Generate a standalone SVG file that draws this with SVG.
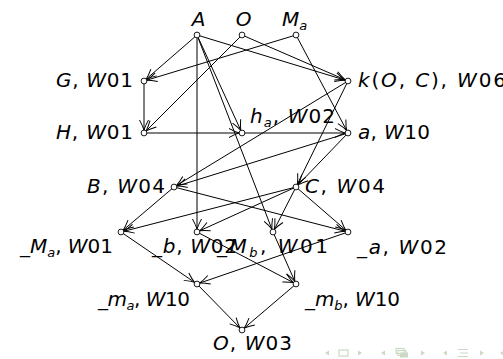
<svg xmlns="http://www.w3.org/2000/svg" width="503" height="359" viewBox="0 0 503 359">
<style>
text{font-family:"DejaVu Sans","Liberation Sans",sans-serif;font-size:20px;fill:#000}
.i{font-style:italic}
.s{font-size:13px;font-style:italic}
.e{stroke:#000;stroke-width:1;fill:none;marker-end:url(#ar)}
.n{fill:#fff;stroke:#000;stroke-width:0.9}
.nav{fill:#cbd9c5;stroke:none}
.navl{fill:none;stroke:#cbd9c5;stroke-width:1.2}
</style>
<defs>
<marker id="ar" markerUnits="userSpaceOnUse" markerWidth="16" markerHeight="14" viewBox="-13 -7 16 14" refX="3" refY="0" orient="auto">
<path d="M-10,-4.5 Q-4,-1.2 0,0 Q-4,1.2 -10,4.5" fill="none" stroke="#000" stroke-width="1"/>
</marker>
</defs>
<rect width="503" height="359" fill="#fff"/>
<g id="connectors">
<line class="e" x1="197" y1="35" x2="144" y2="81"/>
<line class="e" x1="296" y1="35" x2="144" y2="81"/>
<line class="e" x1="197" y1="35" x2="348" y2="81"/>
<line class="e" x1="242" y1="35" x2="348" y2="81"/>
<line class="e" x1="197" y1="35" x2="242" y2="133"/>
<line class="e" x1="197" y1="35" x2="273" y2="232"/>
<line class="e" x1="197" y1="35" x2="197" y2="232"/>
<line class="e" x1="242" y1="35" x2="144" y2="133"/>
<line class="e" x1="296" y1="35" x2="348" y2="133"/>
<line class="e" x1="144" y1="81" x2="144" y2="133"/>
<line class="e" x1="144" y1="133" x2="242" y2="133"/>
<line class="e" x1="242" y1="133" x2="348" y2="133"/>
<line class="e" x1="348" y1="81" x2="174" y2="187"/>
<line class="e" x1="348" y1="133" x2="174" y2="187"/>
<line class="e" x1="348" y1="81" x2="296" y2="187"/>
<line class="e" x1="348" y1="133" x2="296" y2="187"/>
<line class="e" x1="174" y1="187" x2="121" y2="232"/>
<line class="e" x1="174" y1="187" x2="348" y2="232"/>
<line class="e" x1="296" y1="187" x2="121" y2="232"/>
<line class="e" x1="296" y1="187" x2="197" y2="232"/>
<line class="e" x1="296" y1="187" x2="273" y2="232"/>
<line class="e" x1="296" y1="187" x2="348" y2="232"/>
<line class="e" x1="121" y1="232" x2="197" y2="284"/>
<line class="e" x1="197" y1="232" x2="296" y2="284"/>
<line class="e" x1="273" y1="232" x2="296" y2="284"/>
<line class="e" x1="348" y1="232" x2="197" y2="284"/>
<line class="e" x1="197" y1="284" x2="242" y2="330"/>
<line class="e" x1="296" y1="284" x2="242" y2="330"/>
</g>
<g id="nA"><circle class="n" cx="197" cy="35" r="2.9"/><text class="i" x="198.5" y="26" text-anchor="middle">A</text></g>
<g id="nO"><circle class="n" cx="242" cy="35" r="2.9"/><text class="i" x="243.5" y="26" text-anchor="middle">O</text></g>
<g id="nMa"><circle class="n" cx="296" cy="35" r="2.9"/><text x="282" y="26"><tspan class="i">M</tspan><tspan class="s" dy="4">a</tspan></text></g>
<g id="nG"><circle class="n" cx="144" cy="81" r="2.9"/><text x="56" y="87" textLength="77"><tspan class="i">G</tspan>, <tspan class="i">W</tspan>01</text></g>
<g id="nk"><circle class="n" cx="348" cy="81" r="2.9"/><text x="358" y="87" textLength="148"><tspan class="i">k</tspan>(<tspan class="i">O</tspan>, <tspan class="i">C</tspan>), <tspan class="i">W</tspan>06</text></g>
<g id="nH"><circle class="n" cx="144" cy="133" r="2.9"/><text x="56" y="139" textLength="77"><tspan class="i">H</tspan>, <tspan class="i">W</tspan>01</text></g>
<g id="nha"><circle class="n" cx="242" cy="133" r="2.9"/><text x="250" y="123" textLength="85"><tspan class="i">h</tspan><tspan class="s" dy="4">a</tspan><tspan dy="-4">, </tspan><tspan class="i">W</tspan>02</text></g>
<g id="na"><circle class="n" cx="348" cy="133" r="2.9"/><text x="358" y="139" textLength="72"><tspan class="i">a</tspan>, <tspan class="i">W</tspan>10</text></g>
<g id="nB"><circle class="n" cx="174" cy="187" r="2.9"/><text x="87" y="193" textLength="78"><tspan class="i">B</tspan>, <tspan class="i">W</tspan>04</text></g>
<g id="nC"><circle class="n" cx="296" cy="187" r="2.9"/><text x="305" y="193" textLength="80"><tspan class="i">C</tspan>, <tspan class="i">W</tspan>04</text></g>
<g id="n_Ma"><circle class="n" cx="121" cy="232" r="2.9"/><text x="20" y="253" textLength="93">_<tspan class="i">M</tspan><tspan class="s" dy="4">a</tspan><tspan dy="-4">, </tspan><tspan class="i">W</tspan>01</text></g>
<g id="n_b"><circle class="n" cx="197" cy="232" r="2.9"/><text x="152" y="253" textLength="85">_<tspan class="i">b</tspan>, <tspan class="i">W</tspan>02</text></g>
<g id="n_Mb"><circle class="n" cx="273" cy="232" r="2.9"/><text x="217" y="253" textLength="111">_<tspan class="i">M</tspan><tspan class="s" dy="4">b</tspan><tspan dy="-4">, </tspan><tspan class="i">W</tspan>01</text></g>
<g id="n_a"><circle class="n" cx="348" cy="232" r="2.9"/><text x="357" y="254" textLength="90">_<tspan class="i">a</tspan>, <tspan class="i">W</tspan>02</text></g>
<g id="n_ma"><circle class="n" cx="197" cy="284" r="2.9"/><text x="98" y="306" textLength="92">_<tspan class="i">m</tspan><tspan class="s" dy="4">a</tspan><tspan dy="-4">, </tspan><tspan class="i">W</tspan>10</text></g>
<g id="n_mb"><circle class="n" cx="296" cy="284" r="2.9"/><text x="305" y="306" textLength="95">_<tspan class="i">m</tspan><tspan class="s" dy="4">b</tspan><tspan dy="-4">, </tspan><tspan class="i">W</tspan>10</text></g>
<g id="nO3"><circle class="n" cx="242" cy="330" r="2.9"/><text x="213" y="350" textLength="79"><tspan class="i">O</tspan>, <tspan class="i">W</tspan>03</text></g>
<g id="navigation">
<polygon class="nav" points="325,353 329,350.5 329,355.5"/>
<rect class="navl" x="339" y="350" width="9" height="6"/>
<polygon class="nav" points="362,353 358,350.5 358,355.5"/>
<polygon class="nav" points="381,353 385,350.5 385,355.5"/>
<rect class="navl" x="396" y="348.5" width="8" height="5"/>
<rect class="navl" x="398" y="350.5" width="8" height="5"/>
<rect class="nav" x="400" y="352.5" width="8" height="5"/>
<polygon class="nav" points="425,353 421,350.5 421,355.5"/>
<polygon class="nav" points="443,353 447,350.5 447,355.5"/>
<path class="navl" d="M458,349.5h10M460,353h8M458,356.5h10"/>
<polygon class="nav" points="484,353 480,350.5 480,355.5"/>
<polygon class="nav" points="500,353 504,350.5 504,355.5"/>
</g>
</svg>
